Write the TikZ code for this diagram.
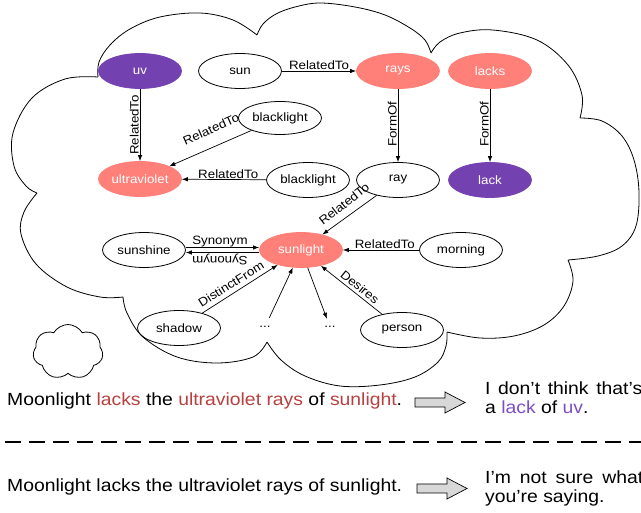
\documentclass[tikz,border=0pt]{standalone}
\usepackage{fontspec}
\setmainfont{Liberation Sans}[FakeStretch=1.1]
\usetikzlibrary{arrows.meta,shapes.geometric,shapes.symbols}
\definecolor{salmon}{HTML}{FF8079}
\definecolor{vio}{HTML}{7442B0}
\definecolor{txtred}{HTML}{B8403E}
\definecolor{txtvio}{HTML}{7D4FC4}
\definecolor{arrgray}{HTML}{D8D8D8}
\newcommand\nfnt{\fontsize{12.1}{13.5}\selectfont}
\newcommand\sfnt{\fontsize{17.6}{20}\selectfont}
\begin{document}
\begin{tikzpicture}[x=1pt,y=-1pt,
  ent/.style={ellipse, draw=black, line width=0.8pt, minimum width=83pt, minimum height=35pt, inner sep=0pt, font=\nfnt},
  hot/.style={ent, fill=salmon, draw=salmon, text=white},
  cold/.style={ent, fill=vio, draw=vio, text=white},
  rel/.style={-{Latex[length=6pt,width=4.5pt]}, line width=0.7pt},
  lab/.style={font=\nfnt, inner sep=1pt},
  dotsnode/.style={font=\nfnt, inner sep=0pt, minimum width=14pt, minimum height=18pt},
  sent/.style={font=\sfnt, anchor=base west, inner sep=0pt},
  bigarrow/.style={draw, fill=arrgray, line width=0.7pt, line join=miter},
]
\useasboundingbox (0,0) rectangle (641,513);

% big thought cloud
\draw[line width=0.8pt]
  plot[smooth, tension=0.6] coordinates {(98,77) (99,62) (110,45) (130,29) (160,17) (200,13) (233,20) (257,35)}
  plot[smooth, tension=0.6] coordinates {(257,35) (263,24) (276,14) (295,7) (320,3) (355,7) (385,15) (410,28) (425,40) (431,53)}
  plot[smooth, tension=0.6] coordinates {(431,53) (440,42) (460,33) (493,30) (537,40) (568,65) (582,95) (580,118)}
  plot[smooth, tension=0.6] coordinates {(580,118) (602,121) (622,136) (634,160) (639,192) (636,226) (622,246) (598,256) (568,260)}
  plot[smooth, tension=0.6] coordinates {(568,260) (573,281) (564,306) (544,325) (514,336) (480,338) (447,332)}
  plot[smooth, tension=0.6] coordinates {(447,332) (446,346) (438,362) (415,377) (380,385) (340,386) (305,376) (281,360) (267,342)}
  plot[smooth, tension=0.6] coordinates {(267,342) (253,357) (217,363) (177,357) (143,337) (127,313) (123,297)}
  plot[smooth, tension=0.6] coordinates {(123,297) (100,297) (67,287) (36,264) (21,234) (24,212) (37,193)}
  plot[smooth, tension=0.6] coordinates {(37,193) (26,186) (14,166) (13,133) (32,98) (65,79) (98,77)};

% small cloud
\node[cloud, draw, line width=0.8pt, cloud puffs=7, cloud puff arc=120, aspect=1.3,
      minimum width=70pt, minimum height=55pt, inner sep=0pt] (smallcloud) at (68,352) {};

% nodes
\node[cold] (uv) at (140,71) {uv};
\node[ent] (sun) at (240,71) {sun};
\node[hot] (rays) at (398,71) {rays};
\node[hot] (lacks) at (490,71) {lacks};
\node[ent, minimum height=33pt] (blackA) at (280,118) {blacklight};
\node[hot] (ultraviolet) at (140,179) {ultraviolet};
\node[ent] (blackB) at (308,180) {blacklight};
\node[ent] (ray) at (398,180) {ray};
\node[cold] (lack) at (490,180) {lack};
\node[ent] (sunshine) at (144,250) {sunshine};
\node[hot] (sunlight) at (301,250) {sunlight};
\node[ent] (morning) at (461,250) {morning};
\node[ent] (shadow) at (179,328) {shadow};
\node[ent] (person) at (402,330) {person};
\node[dotsnode] (dotsL) at (265,327) {...};
\node[dotsnode, minimum height=16pt] (dotsR) at (330,327) {...};

% edges
\draw[rel] (uv) -- node[lab, rotate=90, anchor=south] (l1) {RelatedTo} (ultraviolet);
\draw[rel] (sun) -- node[lab, anchor=south] (l2) {RelatedTo} (rays);
\draw[rel] (rays) -- node[lab, rotate=90, anchor=south, pos=0.48] (l3) {FormOf} (ray);
\draw[rel] (lacks) -- node[lab, rotate=90, anchor=south, pos=0.48] (l4) {FormOf} (lack);
\draw[rel] (blackA) -- (ultraviolet);
\node[lab, rotate=24] (l5) at (211,129) {RelatedTo};
\draw[rel] (blackB) -- node[lab, anchor=south, pos=0.45] (l6) {RelatedTo} (ultraviolet);
\draw[rel] (ray) -- (sunlight);
\node[lab, rotate=38] (l7) at (344,204) {RelatedTo};
\draw[rel] ([yshift=2.5pt]sunshine.east) -- ([yshift=2.5pt]sunlight.west);
\draw[rel] ([yshift=-2.5pt]sunlight.west) -- ([yshift=-2.5pt]sunshine.east);
\node[lab] (l8) at (220,242) {Synonym};
\node[lab, rotate=180] (l9) at (220,259) {Synonym};
\draw[rel] (morning) -- node[lab, anchor=south, pos=0.45] (l10) {RelatedTo} (sunlight);
\draw[rel] (shadow) -- (sunlight);
\node[lab, rotate=32] (l11) at (231,284) {DistinctFrom};
\draw[rel] (dotsL) -- (sunlight);
\draw[rel] (sunlight) -- (dotsR);
\draw[rel] (person) -- (sunlight);
\node[lab, rotate=-39] (l12) at (360,287) {Desires};

% sentences
\node[sent] (s1) at (7,406) {Moonlight {\color{txtred}lacks} the {\color{txtred}ultraviolet rays} of {\color{txtred}sunlight}.};
\node[sent] (s2) at (7,492) {Moonlight lacks the ultraviolet rays of sunlight.};
\node[sent] (r1) at (485,395) {\makebox[157pt][s]{I don’t think that’s}};
\node[sent] (r2) at (485,414) {a {\color{txtvio}lack} of {\color{txtvio}uv}.};
\node[sent] (r3) at (485,484) {\makebox[158pt][s]{I’m not sure what}};
\node[sent] (r4) at (485,503) {you’re saying.};

% block arrows
\draw[bigarrow] (415,398) -- (445,398) -- (445,392) -- (465,402.5) -- (445,413) -- (445,407) -- (415,407) -- cycle;
\draw[bigarrow] (417,484) -- (447,484) -- (447,478) -- (467,488.5) -- (447,499) -- (447,493) -- (417,493) -- cycle;

% dashed separator
\draw[line width=1.3pt, dash pattern=on 16pt off 8pt] (5,442) -- (641,442);
\end{tikzpicture}
\end{document}
